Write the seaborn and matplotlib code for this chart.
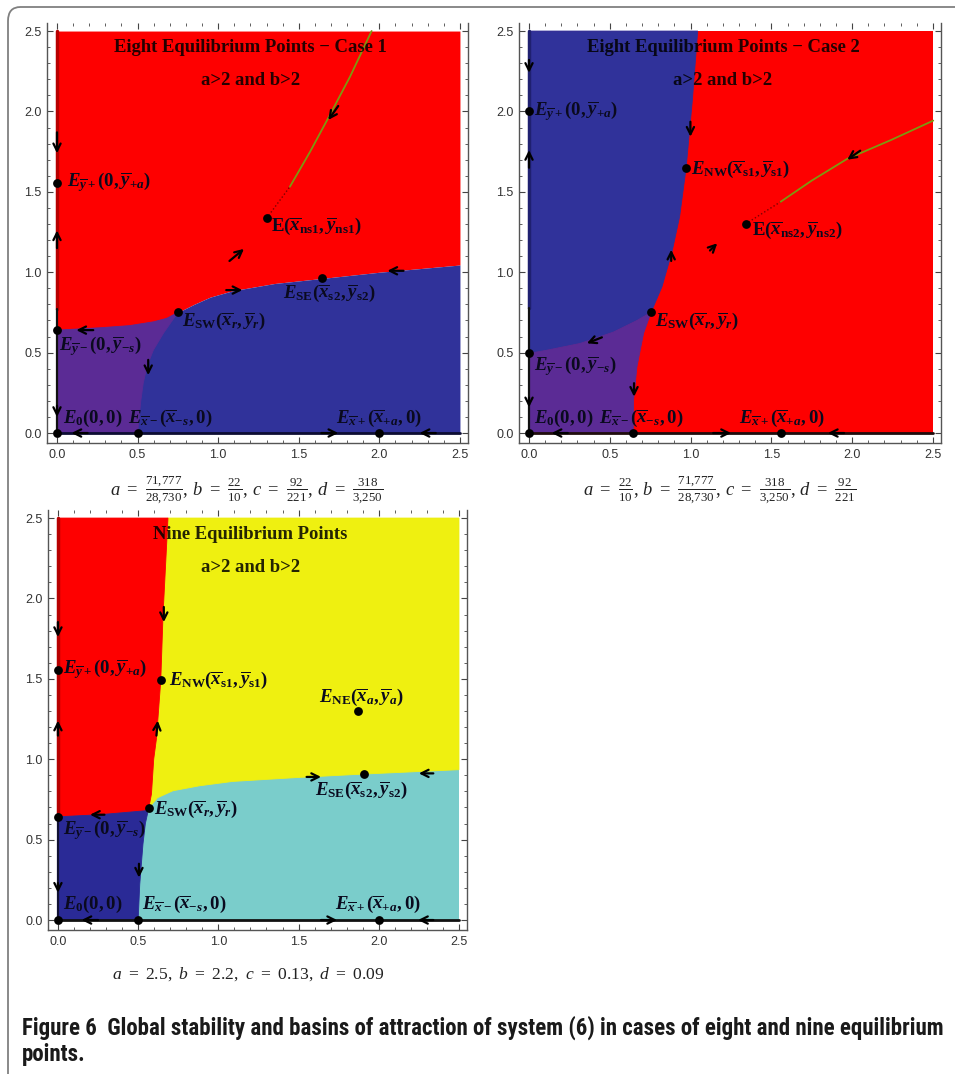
import numpy as np
import matplotlib
matplotlib.use("Agg")
import matplotlib.pyplot as plt
from matplotlib import font_manager
from matplotlib.patches import FancyBboxPatch
from matplotlib.ticker import MultipleLocator
import seaborn as sns

# ---------------- values ----------------
domain = [0.0, 2.5]
tick_vals = [0.0, 0.5, 1.0, 1.5, 2.0, 2.5]
tick_labels = ["0.0", "0.5", "1.0", "1.5", "2.0", "2.5"]

# panel 1: eight equilibrium points, case 1
p1_sep_x = [0.0, 0.27, 0.45, 0.6, 0.68, 0.75, 0.85, 0.95, 1.09, 1.35, 1.65, 2.0, 2.5]
p1_sep_y = [0.64, 0.655, 0.668, 0.692, 0.713, 0.75, 0.8, 0.845, 0.885, 0.93, 0.962, 1.0, 1.045]
p1_pb_y = [0.0, 0.10, 0.20, 0.31, 0.42, 0.516, 0.62, 0.75]
p1_pb_x = [0.5, 0.51, 0.52, 0.535, 0.56, 0.598, 0.66, 0.75]
p1_stable_x = [1.445, 1.57, 1.693, 1.818, 1.952]
p1_stable_y = [1.532, 1.749, 1.978, 2.216, 2.5]
p1_pts_x = [0.0, 0.5, 2.0, 0.0, 0.0, 0.75, 1.646, 1.30]
p1_pts_y = [0.0, 0.0, 0.0, 0.64, 1.557, 0.75, 0.962, 1.335]
p1_lab_text = [r"$E_{\overline{y}+}(0,\overline{y}_{+a})$",
               r"$\mathrm{E}(\overline{x}_{\mathrm{ns1}},\overline{y}_{\mathrm{ns1}})$",
               r"$E_{\mathrm{SW}}(\overline{x}_r,\overline{y}_r)$",
               r"$E_{\mathrm{SE}}(\overline{x}_{\mathrm{s2}},\overline{y}_{\mathrm{s2}})$",
               r"$E_{\overline{y}-}(0,\overline{y}_{-s})$",
               r"$E_0(0,0)$",
               r"$E_{\overline{x}-}(\overline{x}_{-s},0)$",
               r"$E_{\overline{x}+}(\overline{x}_{+a},0)$"]
p1_lab_x = [0.06, 1.33, 0.774, 1.404, 0.015, 0.04, 0.44, 1.73]
p1_lab_y = [1.557, 1.283, 0.692, 0.869, 0.537, 0.091, 0.091, 0.091]
p1_arrows = [(0.0, 1.87, 0.0, 1.74), (0.0, 1.15, 0.0, 1.26),
             (1.07, 1.07, 1.16, 1.145), (1.745, 2.034, 1.683, 1.947),
             (0.225, 0.64, 0.12, 0.64), (1.05, 0.889, 1.15, 0.889),
             (2.15, 1.009, 2.05, 1.009), (0.566, 0.455, 0.566, 0.36),
             (0.0, 0.17, 0.0, 0.10), (0.19, 0.0, 0.09, 0.0),
             (1.64, 0.0, 1.745, 0.0), (2.35, 0.0, 2.25, 0.0)]

# panel 2: eight equilibrium points, case 2
p2_br_y = [0.75, 0.91, 1.127, 1.345, 1.646, 2.07, 2.5]
p2_br_x = [0.755, 0.823, 0.885, 0.932, 0.972, 1.011, 1.044]
p2_pr_y = [0.0, 0.205, 0.412, 0.62, 0.75]
p2_pr_x = [0.645, 0.647, 0.668, 0.709, 0.755]
p2_bp_x = [0.0, 0.11, 0.316, 0.523, 0.668, 0.755]
p2_bp_y = [0.495, 0.515, 0.557, 0.628, 0.70, 0.75]
p2_stable_x = [1.557, 1.75, 1.971, 2.24, 2.502]
p2_stable_y = [1.438, 1.57, 1.706, 1.822, 1.943]
p2_pts_x = [0.0, 0.645, 1.557, 0.0, 0.0, 0.972, 0.755, 1.34]
p2_pts_y = [0.0, 0.0, 0.0, 0.496, 2.0, 1.646, 0.75, 1.30]
p2_lab_text = [r"$E_{\overline{y}+}(0,\overline{y}_{+a})$",
               r"$E_{\mathrm{NW}}(\overline{x}_{\mathrm{s1}},\overline{y}_{\mathrm{s1}})$",
               r"$\mathrm{E}(\overline{x}_{\mathrm{ns2}},\overline{y}_{\mathrm{ns2}})$",
               r"$E_{\mathrm{SW}}(\overline{x}_r,\overline{y}_r)$",
               r"$E_{\overline{y}-}(0,\overline{y}_{-s})$",
               r"$E_0(0,0)$",
               r"$E_{\overline{x}-}(\overline{x}_{-s},0)$",
               r"$E_{\overline{x}+}(\overline{x}_{+a},0)$"]
p2_lab_x = [0.03, 1.005, 1.38, 0.78, 0.03, 0.03, 0.436, 1.30]
p2_lab_y = [2.0, 1.64, 1.262, 0.692, 0.412, 0.091, 0.091, 0.091]
p2_arrows = [(0.0, 2.32, 0.0, 2.24), (0.0, 1.65, 0.0, 1.76),
             (0.999, 1.936, 0.999, 1.843), (2.05, 1.756, 1.97, 1.70),
             (1.12, 1.135, 1.165, 1.18), (0.88, 1.07, 0.88, 1.14),
             (0.451, 0.595, 0.358, 0.558), (0.65, 0.31, 0.65, 0.226),
             (0.0, 0.22, 0.0, 0.16), (0.24, 0.0, 0.14, 0.0),
             (1.14, 0.0, 1.25, 0.0), (1.95, 0.0, 1.85, 0.0)]

# panel 3: nine equilibrium points
p3_ry_y = [0.696, 0.784, 1.0, 1.127, 1.49, 1.895, 2.5]
p3_ry_x = [0.566, 0.583, 0.597, 0.614, 0.641, 0.655, 0.686]
p3_yt_x = [0.566, 0.62, 0.717, 0.883, 1.09, 1.505, 1.91, 2.5]
p3_yt_y = [0.696, 0.76, 0.804, 0.835, 0.862, 0.887, 0.908, 0.935]
p3_rn_x = [0.0, 0.261, 0.55, 0.566]
p3_rn_y = [0.642, 0.655, 0.68, 0.696]
p3_nt_y = [0.0, 0.222, 0.472, 0.6, 0.696]
p3_nt_x = [0.5, 0.51, 0.53, 0.545, 0.566]
p3_pts_x = [0.0, 0.5, 2.0, 0.0, 0.0, 0.641, 0.566, 1.91, 1.872]
p3_pts_y = [0.0, 0.0, 0.0, 0.642, 1.556, 1.49, 0.696, 0.908, 1.30]
p3_lab_text = [r"$E_{\overline{y}+}(0,\overline{y}_{+a})$",
               r"$E_{\mathrm{NW}}(\overline{x}_{\mathrm{s1}},\overline{y}_{\mathrm{s1}})$",
               r"$E_{\mathrm{NE}}(\overline{x}_a,\overline{y}_a)$",
               r"$E_{\mathrm{SW}}(\overline{x}_r,\overline{y}_r)$",
               r"$E_{\mathrm{SE}}(\overline{x}_{\mathrm{s2}},\overline{y}_{\mathrm{s2}})$",
               r"$E_{\overline{y}-}(0,\overline{y}_{-s})$",
               r"$E_0(0,0)$",
               r"$E_{\overline{x}-}(\overline{x}_{-s},0)$",
               r"$E_{\overline{x}+}(\overline{x}_{+a},0)$"]
p3_lab_x = [0.033, 0.69, 1.63, 0.6, 1.605, 0.03, 0.03, 0.527, 1.73]
p3_lab_y = [1.556, 1.49, 1.382, 0.686, 0.804, 0.555, 0.098, 0.098, 0.098]
p3_arrows = [(0.0, 1.853, 0.0, 1.76), (0.66, 1.947, 0.66, 1.853),
             (0.0, 1.147, 0.0, 1.24), (0.614, 1.147, 0.622, 1.24),
             (0.29, 0.655, 0.2, 0.655), (1.55, 0.89, 1.64, 0.89),
             (2.34, 0.912, 2.25, 0.912), (0.505, 0.35, 0.505, 0.264),
             (0.0, 0.23, 0.0, 0.17), (0.25, 0.0, 0.147, 0.0),
             (1.64, 0.0, 1.74, 0.0), (2.34, 0.0, 2.245, 0.0)]

titles = ["Eight Equilibrium Points \u2212 Case 1",
          "Eight Equilibrium Points \u2212 Case 2",
          "Nine Equilibrium Points"]
subtitle = "a>2 and b>2"
captions = [
    r"$\mathsf{a}\ \mathtt{=}\ \frac{\mathtt{71{,}777}}{\mathtt{28{,}730}}\mathtt{,}\ \mathsf{b}\ \mathtt{=}\ \frac{\mathtt{22}}{\mathtt{10}}\mathtt{,}\ \mathsf{c}\ \mathtt{=}\ \frac{\mathtt{92}}{\mathtt{221}}\mathtt{,}\ \mathsf{d}\ \mathtt{=}\ \frac{\mathtt{318}}{\mathtt{3{,}250}}$",
    r"$\mathsf{a}\ \mathtt{=}\ \frac{\mathtt{22}}{\mathtt{10}}\mathtt{,}\ \mathsf{b}\ \mathtt{=}\ \frac{\mathtt{71{,}777}}{\mathtt{28{,}730}}\mathtt{,}\ \mathsf{c}\ \mathtt{=}\ \frac{\mathtt{318}}{\mathtt{3{,}250}}\mathtt{,}\ \mathsf{d}\ \mathtt{=}\ \frac{\mathtt{92}}{\mathtt{221}}$",
    r"$\mathsf{a}\ \mathtt{=}\ \mathtt{2.5,}\ \mathsf{b}\ \mathtt{=}\ \mathtt{2.2,}\ \mathsf{c}\ \mathtt{=}\ \mathtt{0.13,}\ \mathsf{d}\ \mathtt{=}\ \mathtt{0.09}$",
]
fig_caption = ["Figure 6  Global stability and basins of attraction of system (6) in cases of eight and nine equilibrium",
               "points."]

RED = "#fe0000"
BLUE = "#30329a"
PURPLE = "#5b2b95"
YELLOW = "#eff010"
TEAL = "#7acdcb"
NAVY = "#2a2a96"

# ---------------- styling ----------------
sns.set_style("ticks")
plt.rcParams["font.family"] = ["Liberation Serif", "DejaVu Serif"]
plt.rcParams["mathtext.fontset"] = "custom"
plt.rcParams["mathtext.rm"] = "Liberation Serif:bold"
plt.rcParams["mathtext.it"] = "Liberation Serif:italic:bold"
plt.rcParams["mathtext.bf"] = "Liberation Serif:bold"
plt.rcParams["mathtext.sf"] = "Liberation Serif:italic"
plt.rcParams["mathtext.tt"] = "Liberation Serif"

W, H = 955, 1074
fig = plt.figure(figsize=(W / 100, H / 100), dpi=100)


def px_axes(left, top, right, bottom):
    return fig.add_axes([left / W, 1 - bottom / H, (right - left) / W, (bottom - top) / H])


def poly(ax, xs, ys, color):
    ax.fill(xs, ys, color=color, lw=0.6, ec=color, zorder=1)


def frame(ax):
    ax.set_xlim(-0.062, 2.55)
    ax.set_ylim(-0.062, 2.55)
    ax.set_xticks(tick_vals)
    ax.set_xticklabels(tick_labels)
    ax.set_yticks(tick_vals)
    ax.set_yticklabels(tick_labels)
    ax.xaxis.set_minor_locator(MultipleLocator(0.1))
    ax.yaxis.set_minor_locator(MultipleLocator(0.1))
    ax.tick_params(which="both", direction="in", top=True, right=True,
                   colors="#444444", labelsize=9, labelcolor="#333333")
    ax.tick_params(which="major", length=4.5, width=0.8, pad=4)
    ax.tick_params(which="minor", length=2.5, width=0.6)
    for lab in ax.get_xticklabels() + ax.get_yticklabels():
        lab.set_family("Liberation Sans")
    for side in ["left", "bottom", "right"]:
        ax.spines[side].set_color("#555555")
        ax.spines[side].set_linewidth(1.0)
    ax.spines["top"].set_visible(False)
    ax.set_xlabel("")
    ax.set_ylabel("")


def decorate(ax, pts_x, pts_y, lab_text, lab_x, lab_y, arrows, title):
    sns.scatterplot(x=pts_x, y=pts_y, ax=ax, color="black", s=40,
                    edgecolor="black", linewidth=0, zorder=6, legend=False)
    for t, x, y in zip(lab_text, lab_x, lab_y):
        ax.text(x, y, t, fontsize=13.5, ha="left", va="center", color="#0a0a1e", zorder=7)
    for x0, y0, x1, y1 in arrows:
        ax.annotate("", xy=(x1, y1), xytext=(x0, y0),
                    arrowprops=dict(arrowstyle="->", lw=1.6, color="black",
                                    shrinkA=0, shrinkB=0, mutation_scale=13),
                    zorder=6)
    ax.text(1.2, 2.40, title, ha="center", va="center", fontsize=13.4,
            fontweight="bold", color="black", alpha=0.85, zorder=7)
    ax.text(1.2, 2.195, subtitle, ha="center", va="center", fontsize=13.4,
            fontweight="bold", color="black", alpha=0.85, zorder=7)
    frame(ax)


# ---------------- panel 1 ----------------
ax1 = px_axes(47, 23, 468, 443)
ax1.fill_between(p1_sep_x, p1_sep_y, domain[1], color=RED, lw=0, zorder=1)
ax1.fill_between(p1_sep_x, domain[0], p1_sep_y, color=BLUE, lw=0, zorder=1)
sx = np.array(p1_sep_x)
sy = np.array(p1_sep_y)
keep = sx < p1_pb_x[-1]
poly(ax1, [0.0] + p1_pb_x + list(sx[keep][::-1]), [0.0] + p1_pb_y + list(sy[keep][::-1]), PURPLE)
ax1.plot([0, 0], [0.77, 2.5], color="#b80000", lw=2.5, zorder=2)
ax1.plot([0, 0], [0, 0.77], color="#111111", lw=1.6, zorder=3)
ax1.plot(domain, [0, 0], color="#0d0d33", lw=2.0, zorder=3)
sns.lineplot(x=[p1_pts_x[-1], p1_stable_x[0]], y=[p1_pts_y[-1], p1_stable_y[0]], ax=ax1,
             sort=False, estimator=None, color="#7a0000", lw=1.0, linestyle=":", zorder=2)
sns.lineplot(x=p1_stable_x, y=p1_stable_y, ax=ax1, sort=False, estimator=None,
             color="#7c9a10", lw=1.3, zorder=2)
decorate(ax1, p1_pts_x, p1_pts_y, p1_lab_text, p1_lab_x, p1_lab_y, p1_arrows, titles[0])

# ---------------- panel 2 ----------------
ax2 = px_axes(519, 23, 941, 443)
ax2.fill_between(domain, domain[0], domain[1], color=RED, lw=0, zorder=1)
poly(ax2, p2_bp_x + p2_br_x[1:] + [0.0], p2_bp_y + p2_br_y[1:] + [2.5], BLUE)
poly(ax2, [0.0] + p2_pr_x + p2_bp_x[::-1][1:], [0.0] + p2_pr_y + p2_bp_y[::-1][1:], PURPLE)
ax2.plot([0, 0], [0.78, 2.5], color="#1f2070", lw=2.5, zorder=2)
ax2.plot([0, 0], [0, 0.78], color="#111111", lw=1.6, zorder=3)
ax2.plot(domain, [0, 0], color="#200d0d", lw=2.0, zorder=3)
sns.lineplot(x=[p2_pts_x[-1], p2_stable_x[0]], y=[p2_pts_y[-1], p2_stable_y[0]], ax=ax2,
             sort=False, estimator=None, color="#7a0000", lw=1.0, linestyle=":", zorder=2)
sns.lineplot(x=p2_stable_x, y=p2_stable_y, ax=ax2, sort=False, estimator=None,
             color="#7c9a10", lw=1.3, zorder=2)
decorate(ax2, p2_pts_x, p2_pts_y, p2_lab_text, p2_lab_x, p2_lab_y, p2_arrows, titles[1])

# ---------------- panel 3 ----------------
ax3 = px_axes(48, 510, 467, 930)
ax3.fill_between(domain, domain[0], domain[1], color=TEAL, lw=0, zorder=1)
poly(ax3, p3_yt_x + [2.5] + p3_ry_x[::-1], p3_yt_y + [2.5] + p3_ry_y[::-1], YELLOW)
poly(ax3, p3_rn_x + p3_ry_x[1:] + [0.0], p3_rn_y + p3_ry_y[1:] + [2.5], RED)
poly(ax3, [0.0] + p3_nt_x + p3_rn_x[::-1][1:], [0.0] + p3_nt_y + p3_rn_y[::-1][1:], NAVY)
ax3.plot([0, 0], [0.66, 2.5], color="#b80000", lw=2.5, zorder=2)
ax3.plot([0, 0], [0, 0.66], color="#111133", lw=1.6, zorder=3)
ax3.plot(domain, [0, 0], color="#111111", lw=2.0, zorder=3)
decorate(ax3, p3_pts_x, p3_pts_y, p3_lab_text, p3_lab_x, p3_lab_y, p3_arrows, titles[2])

# ---------------- captions ----------------
fig.text(247 / W, 1 - 490 / H, captions[0], ha="center", va="center", fontsize=13.3, color="#222222")
fig.text(720 / W, 1 - 490 / H, captions[1], ha="center", va="center", fontsize=13.3, color="#222222")
fig.text(248 / W, 1 - 974 / H, captions[2], ha="center", va="center", fontsize=12.6, color="#222222")

names = {f.name for f in font_manager.fontManager.ttflist}
cap_font = "DejaVu Sans"
for cand in ["Liberation Sans Narrow", "Roboto Condensed", "Roboto", "Open Sans"]:
    if cand in names:
        cap_font = cand
        break
c1 = fig.text(22 / W, 1 - 1028 / H, fig_caption[0], ha="left", va="center", fontsize=13,
              fontweight="bold", family=cap_font, color="#1a1a1a")
c2 = fig.text(22 / W, 1 - 1055 / H, fig_caption[1], ha="left", va="center", fontsize=13,
              fontweight="bold", family=cap_font, color="#1a1a1a")
fig.canvas.draw()
width = c1.get_window_extent().width
scale = 916 / width
c1.set_fontsize(13 * scale)
c2.set_fontsize(13 * scale)

# rounded outer frame
border = FancyBboxPatch((8 / W, -0.02), (990 - 8) / W, 1.02 - 7 / H,
                        boxstyle="round,pad=0,rounding_size=0.013",
                        transform=fig.transFigure, fill=False, ec="#808080", lw=1.3)
fig.add_artist(border)

fig.savefig("out.png", dpi=100)
